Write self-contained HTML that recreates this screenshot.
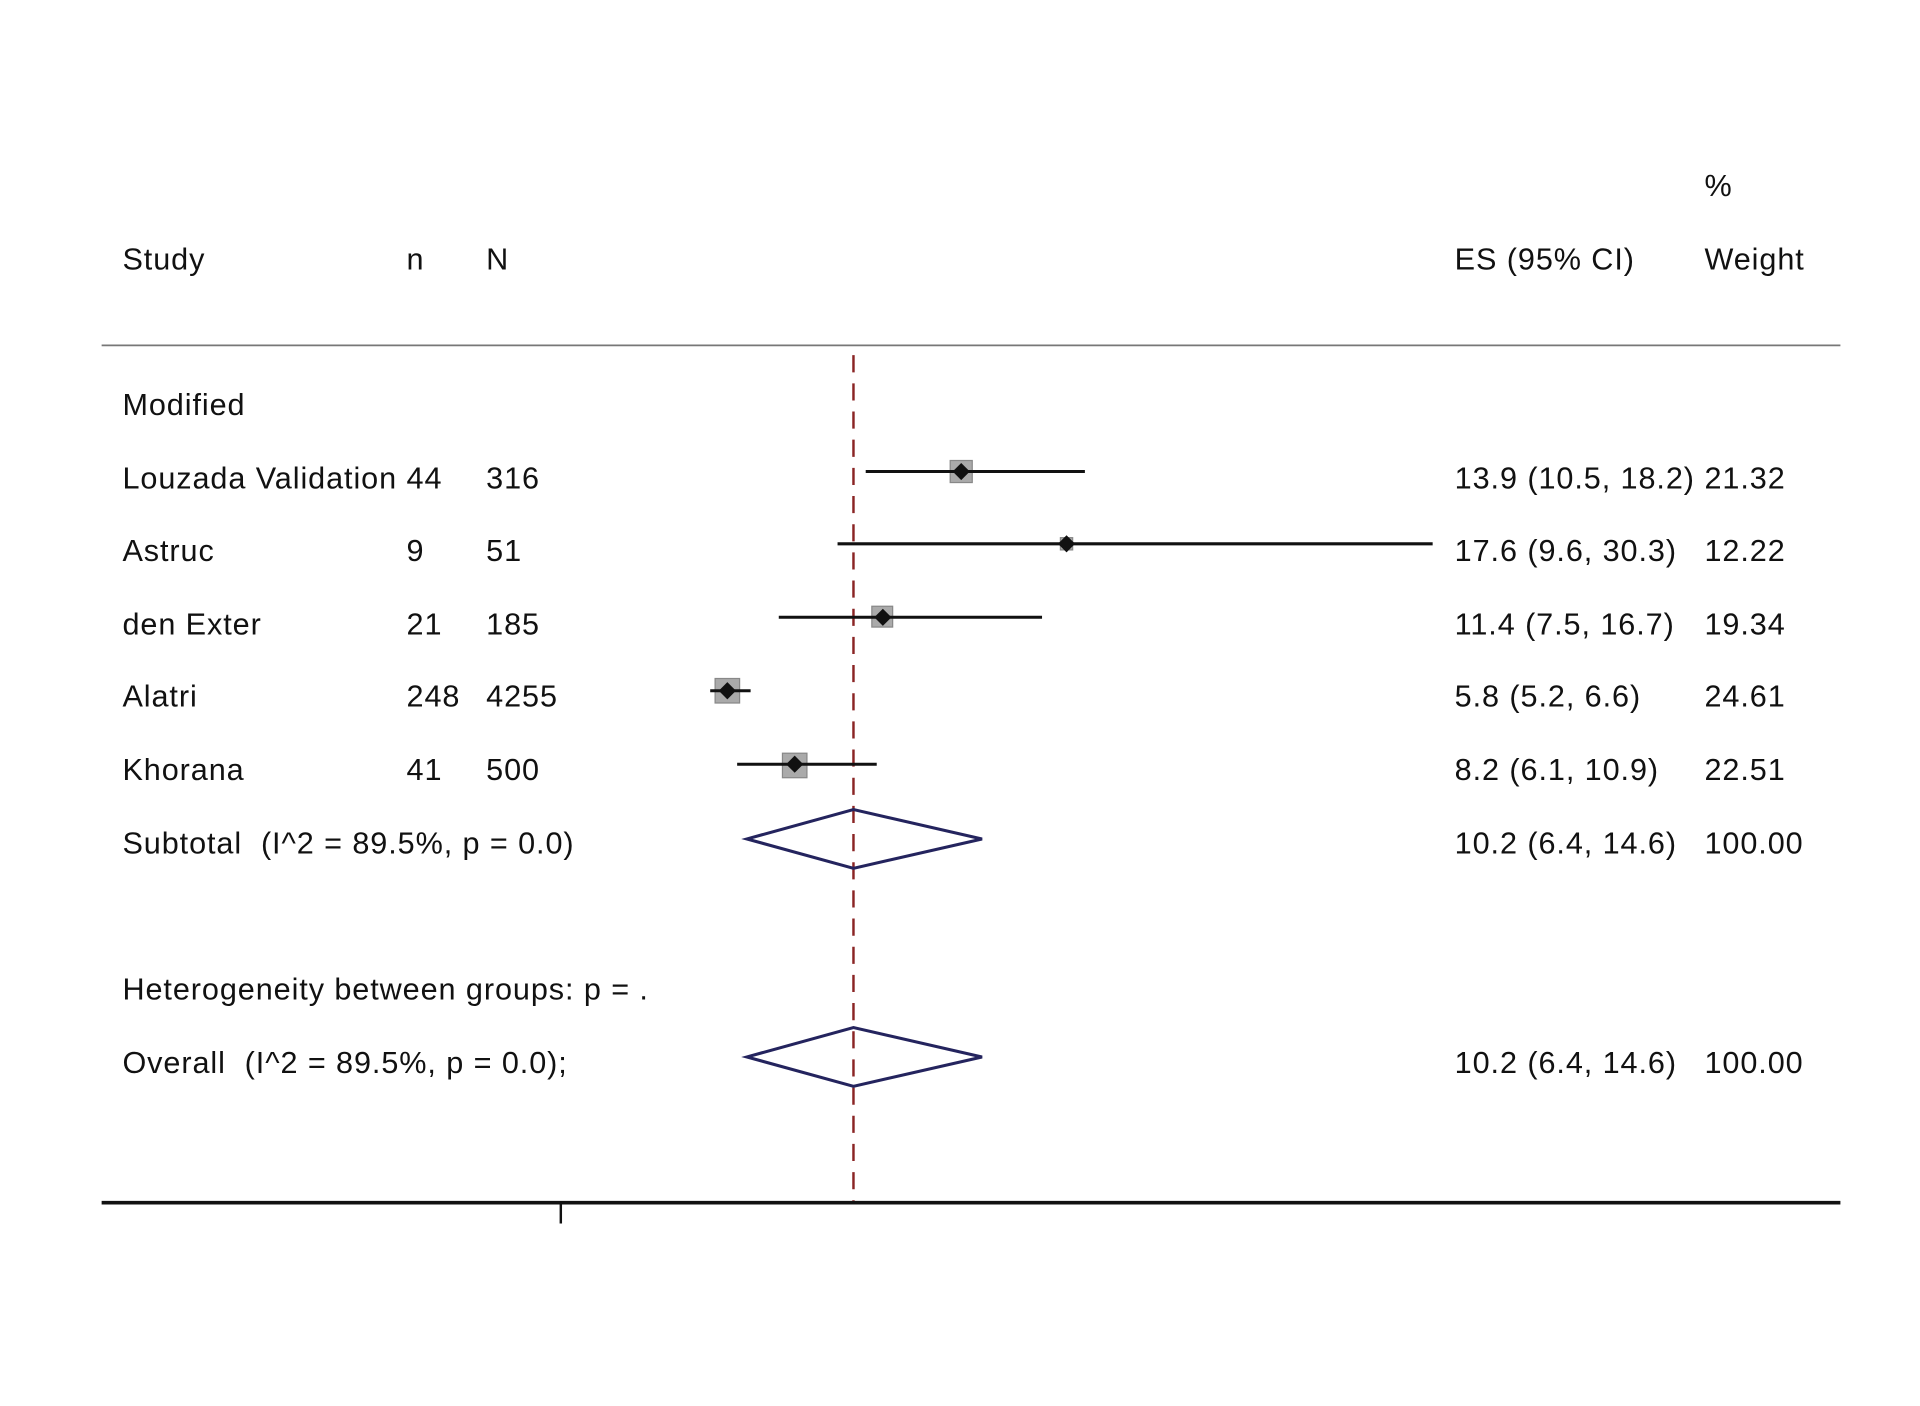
<!DOCTYPE html>
<html><head><meta charset="utf-8"><style>
html,body{margin:0;padding:0;background:#fff;}
svg{display:block;}
text{font-family:"Liberation Sans",Arial,sans-serif;font-size:25px;fill:#111;letter-spacing:0.75px;white-space:pre;}
</style></head><body>
<svg width="1920" height="1406" viewBox="0 0 1568 1148" preserveAspectRatio="none" xmlns="http://www.w3.org/2000/svg" xml:space="preserve">
<rect width="1568" height="1148" fill="#fff"/>
<line x1="83" y1="282" x2="1503" y2="282" stroke="#777" stroke-width="1.5"/>
<line x1="697" y1="290" x2="697" y2="982" stroke="#8a2424" stroke-width="2" stroke-dasharray="14,9"/>
<line x1="83" y1="982" x2="1503" y2="982" stroke="#111" stroke-width="3"/>
<line x1="458" y1="982" x2="458" y2="999" stroke="#111" stroke-width="2"/>

<text x="1392" y="160">%</text>
<text x="100" y="220">Study</text>
<text x="332" y="220">n</text>
<text x="397" y="220">N</text>
<text x="1188" y="220">ES (95% CI)</text>
<text x="1392" y="220">Weight</text>

<text x="100" y="339">Modified</text>

<g>
<text x="100" y="399">Louzada Validation</text><text x="332" y="399">44</text><text x="397" y="399">316</text>
<text x="1188" y="399">13.9 (10.5, 18.2)</text><text x="1392" y="399">21.32</text>
<text x="100" y="458">Astruc</text><text x="332" y="458">9</text><text x="397" y="458">51</text>
<text x="1188" y="458">17.6 (9.6, 30.3)</text><text x="1392" y="458">12.22</text>
<text x="100" y="518">den Exter</text><text x="332" y="518">21</text><text x="397" y="518">185</text>
<text x="1188" y="518">11.4 (7.5, 16.7)</text><text x="1392" y="518">19.34</text>
<text x="100" y="577">Alatri</text><text x="332" y="577">248</text><text x="397" y="577">4255</text>
<text x="1188" y="577">5.8 (5.2, 6.6)</text><text x="1392" y="577">24.61</text>
<text x="100" y="637">Khorana</text><text x="332" y="637">41</text><text x="397" y="637">500</text>
<text x="1188" y="637">8.2 (6.1, 10.9)</text><text x="1392" y="637">22.51</text>
<text x="100" y="697">Subtotal  (I^2 = 89.5%, p = 0.0)</text>
<text x="1188" y="697">10.2 (6.4, 14.6)</text><text x="1392" y="697">100.00</text>
<text x="100" y="816">Heterogeneity between groups: p = .</text>
<text x="100" y="876">Overall  (I^2 = 89.5%, p = 0.0);</text>
<text x="1188" y="876">10.2 (6.4, 14.6)</text><text x="1392" y="876">100.00</text>
</g>

<g fill="#aaa" stroke="#888" stroke-width="1">
<rect x="776" y="376" width="18" height="18"/>
<rect x="866" y="439" width="10" height="10"/>
<rect x="712" y="495" width="17" height="17"/>
<rect x="584" y="554" width="20" height="20"/>
<rect x="639" y="615" width="20" height="20"/>
</g>
<g stroke="#111" stroke-width="2.5">
<line x1="707" y1="385" x2="886" y2="385"/>
<line x1="684" y1="444" x2="1170" y2="444"/>
<line x1="636" y1="504" x2="851" y2="504"/>
<line x1="580" y1="564" x2="613" y2="564"/>
<line x1="602" y1="624" x2="716" y2="624"/>
</g>
<g fill="#111">
<polygon points="785,378 792,385 785,392 778,385"/>
<polygon points="871,437 878,444 871,451 864,444"/>
<polygon points="721,497 728,504 721,511 714,504"/>
<polygon points="594,557 601,564 594,571 587,564"/>
<polygon points="649,617 656,624 649,631 642,624"/>
</g>
<g fill="none" stroke="#24245e" stroke-width="2.5">
<polygon points="610,685 697,661 802,685 697,709"/>
<polygon points="610,863 697,839 802,863 697,887"/>
</g>
</svg>
</body></html>
